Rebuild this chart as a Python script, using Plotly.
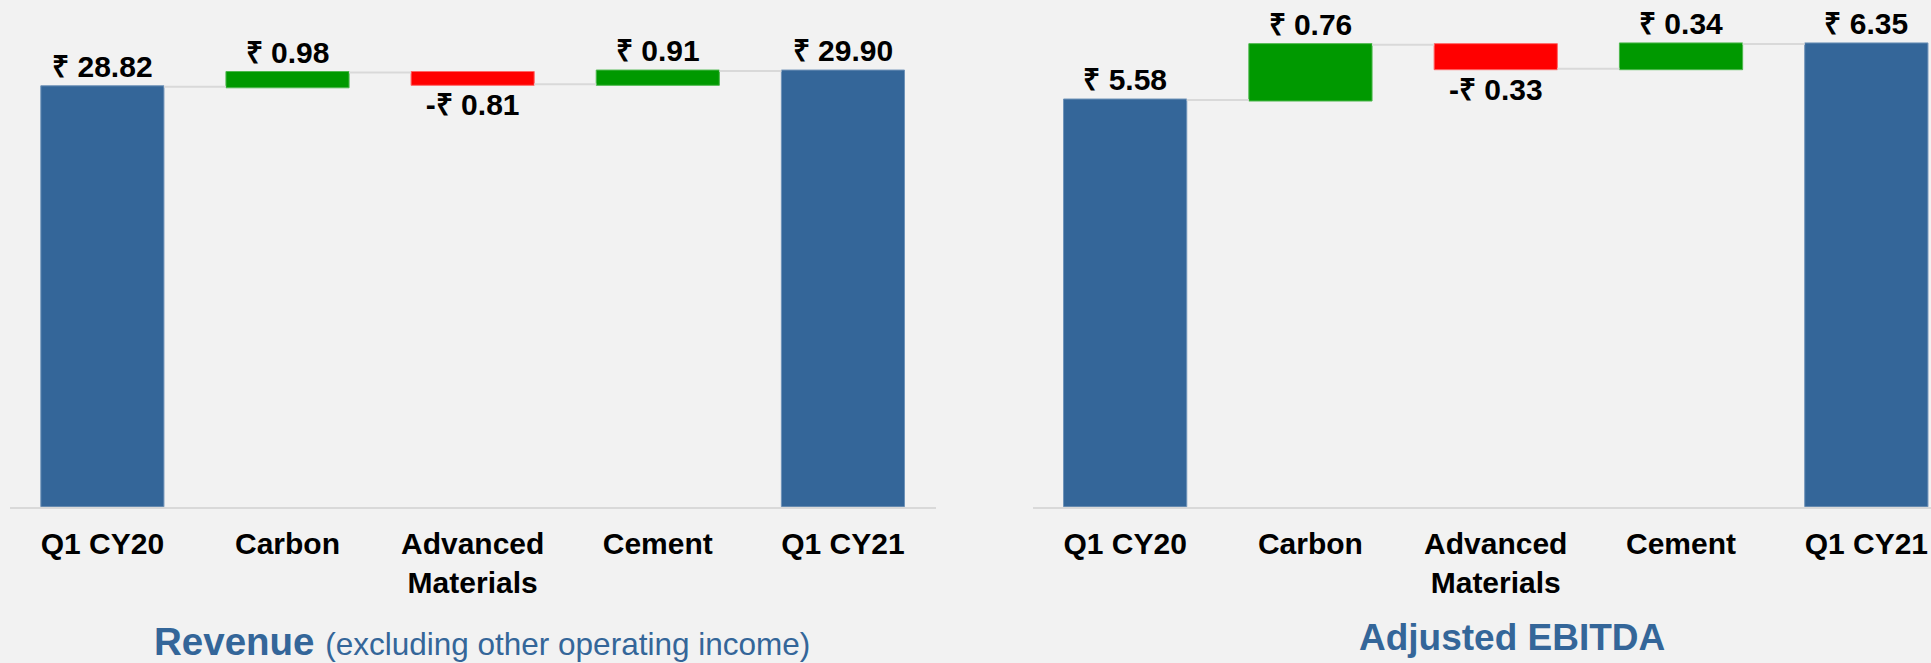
import plotly.graph_objects as go

categories = ["Q1 CY20", "Carbon", "Advanced<br>Materials", "Cement", "Q1 CY21"]
measures = ["absolute", "relative", "relative", "relative", "total"]
revenue_values = [28.82, 0.98, -0.81, 0.91, 29.90]
ebitda_values = [5.58, 0.76, -0.33, 0.34, 6.35]

W, H = 1931, 663
BLUE = "#346699"
GREEN = "#009900"
RED = "#FF0000"
BG = "#F2F2F2"
FONT = "Liberation Sans, Arial, sans-serif"


def fmt(v):
    return f"₹ {v:.2f}" if v >= 0 else f"-₹ {abs(v):.2f}"


def wf(values, xa, ya):
    return go.Waterfall(
        x=categories, y=values, measure=measures,
        text=[fmt(v) for v in values], textposition="outside",
        textfont=dict(family=FONT, size=30, color="black", weight="bold"),
        cliponaxis=False,
        increasing=dict(marker=dict(color=GREEN, line=dict(color="#4db84d", width=1))),
        decreasing=dict(marker=dict(color=RED, line=dict(color="#ff6666", width=1))),
        totals=dict(marker=dict(color=BLUE, line=dict(color="#6f93b8", width=1))),
        connector=dict(line=dict(color="#D9D9D9", width=2)),
        xaxis=xa, yaxis=ya, showlegend=False, hoverinfo="skip",
    )


fig = go.Figure()
fig.add_trace(wf(revenue_values, "x", "y"))
fig.add_trace(wf(ebitda_values, "x2", "y2"))

base_px = 506.7
ydom = [(H - base_px) / H, 1.0]
left_ppu = 14.57
right_ppu = 72.88

xcommon = dict(showgrid=False, zeroline=False, showline=True, linecolor="#D9D9D9", linewidth=2,
               ticks="", ticklabelstandoff=9,
               tickfont=dict(family=FONT, size=30, color="black", weight="bold"),
               fixedrange=True)
fig.update_layout(
    width=W, height=H,
    margin=dict(l=0, r=0, t=0, b=0),
    paper_bgcolor=BG, plot_bgcolor=BG,
    waterfallgap=0.335,
    xaxis=dict(domain=[9.8 / W, 935.5 / W], range=[-0.5, 4.5], anchor="y", **xcommon),
    xaxis2=dict(domain=[1032.5 / W, 1.0], range=[-0.5, 4.349], anchor="y2", **xcommon),
    yaxis=dict(domain=ydom, range=[0, base_px / left_ppu], visible=False, anchor="x"),
    yaxis2=dict(domain=ydom, range=[0, base_px / right_ppu], visible=False, anchor="x2"),
    annotations=[
        dict(xref="paper", yref="paper", x=482 / W, y=(H - 641) / H, xanchor="center", yanchor="middle",
             showarrow=False,
             text="<b>Revenue</b> <span style='font-size:31.5px'>(excluding other operating income)</span>",
             font=dict(family=FONT, size=38.5, color=BLUE)),
        dict(xref="paper", yref="paper", x=1512 / W, y=(H - 637) / H, xanchor="center", yanchor="middle",
             showarrow=False, text="<b>Adjusted EBITDA</b>",
             font=dict(family=FONT, size=37, color=BLUE)),
    ],
)

fig.write_html("out.html", config={"displayModeBar": False},
               post_script="document.body.style.margin='0';document.body.style.padding='0';"
                           "document.body.style.overflow='hidden';")
